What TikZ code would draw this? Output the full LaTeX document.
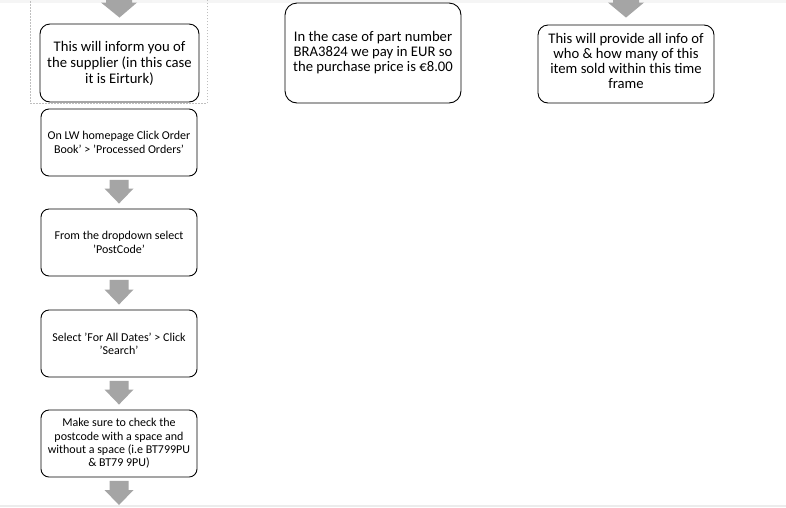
\documentclass[tikz,border=0pt]{standalone}
\usepackage{fontspec}
\setmainfont{Carlito}
\usetikzlibrary{calc}
\definecolor{arrowgray}{HTML}{A5A5A5}
\definecolor{dotgray}{HTML}{BFBFBF}
\tikzset{
  bigbox/.style={draw=black, line width=0.9pt, rounded corners=10pt, inner sep=0pt, align=center,
    font=\fontsize{14.67}{16}\selectfont},
  smallbox/.style={draw=black, line width=0.9pt, rounded corners=8pt, inner sep=0pt, align=center,
    minimum width=156pt, minimum height=67pt, font=\fontsize{12}{13.3}\selectfont},
}
\newcommand\blockarrowpath[4]{%
  \fill[arrowgray] let \p1=(#1), \p2=(#2) in
    (\x1-#3,\y1) -- (\x1+#3,\y1) -- (\x1+#3,\y2+15pt) -- (\x1+#4,\y2+15pt) --
    (\x2,\y2) -- (\x1-#4,\y2+15pt) -- (\x1-#3,\y2+15pt) -- cycle;}
\begin{document}
\begin{tikzpicture}[x=1pt,y=-1pt]
\useasboundingbox (0,0) rectangle (786,507);
\clip (0,0) rectangle (786,507);
\fill[white] (0,0) rectangle (786,507);
\fill[gray!8] (0,0) rectangle (786,2.5);
\fill[gray!15] (0,505) rectangle (786,507);
% dotted group frame
\draw[dotgray, line width=1pt, dash pattern=on 1.5pt off 1.5pt] (30,-5) rectangle (207,103);
% top row boxes
\node[bigbox, minimum width=159pt, minimum height=78pt] (b1) at (119.5,63)
  {This will inform you of\\the supplier (in this case\\it is Eirturk)};
\node[bigbox, rounded corners=12pt, minimum width=176pt, minimum height=100pt,
  font=\fontsize{14.67}{15}\selectfont, text depth=3pt] (b2) at (373,53)
  {In the case of part number\\BRA3824 we pay in EUR so\\the purchase price is €8.00};
\node[bigbox, minimum width=176pt, minimum height=78pt,
  font=\fontsize{14.67}{15}\selectfont, text depth=7pt] (b3) at (626,64)
  {This will provide all info of\\who \& how many of this\\item sold within this time\\frame};
% left column
\node[smallbox] (b4) at (119,142.5) {On LW homepage Click Order\\Book' > 'Processed Orders'};
\node[smallbox] (b5) at (119,242.5) {From the dropdown select\\'PostCode'};
\node[smallbox] (b6) at (119,343.5) {Select 'For All Dates' > Click\\'Search'};
\node[smallbox] (b7) at (119,443.5) {Make sure to check the\\postcode with a space and\\without a space (i.e BT799PU\\\& BT79 9PU)};
\coordinate (t1) at (119,-5);
\coordinate (t3) at (626,-5);
\coordinate (endbottom) at (119,505);
% block arrows
\blockarrowpath{t1}{$(b1.north)+(0,-6)$}{13pt}{18pt}
\blockarrowpath{t3}{$(b3.north)+(0,-7)$}{13pt}{18pt}
\blockarrowpath{$(b4.south)+(0,3.5)$}{$(b5.north)+(0,-5)$}{9.5pt}{14.5pt}
\blockarrowpath{$(b5.south)+(0,3.5)$}{$(b6.north)+(0,-5)$}{9.5pt}{14.5pt}
\blockarrowpath{$(b6.south)+(0,3.5)$}{$(b7.north)+(0,-5)$}{9.5pt}{14.5pt}
\blockarrowpath{$(b7.south)+(0,3.5)$}{endbottom}{9.5pt}{14.5pt}
\end{tikzpicture}
\end{document}
